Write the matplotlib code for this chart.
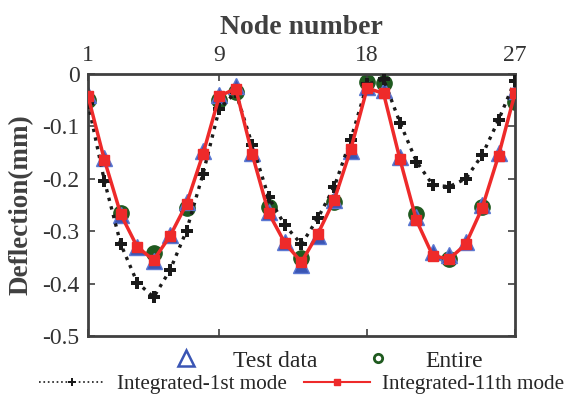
import numpy as np
import matplotlib.pyplot as plt
from matplotlib.lines import Line2D

plt.rcParams['font.family'] = ['Liberation Serif', 'DejaVu Serif']

nodes = np.arange(1, 28)

# test data (blue triangles)
test_data = [-0.040, -0.161, -0.269, -0.330, -0.357, -0.308, -0.244, -0.146, -0.040,
             -0.023, -0.151, -0.263, -0.321, -0.365, -0.310, -0.240, -0.147, -0.024,
             -0.031, -0.158, -0.272, -0.340, -0.345, -0.320, -0.250, -0.150, -0.032]

# entire model (green circles)
entire_nodes = [1, 3, 5, 7, 9, 10, 12, 14, 16, 18, 19, 21, 23, 25, 27]
entire = [-0.050, -0.265, -0.342, -0.256, -0.050, -0.034, -0.253, -0.352, -0.244,
          -0.016, -0.018, -0.267, -0.354, -0.253, -0.053]

# integrated - 1st mode
mode1 = [-0.055, -0.204, -0.325, -0.398, -0.426, -0.374, -0.299, -0.191, -0.066,
         -0.035, -0.135, -0.235, -0.289, -0.325, -0.275, -0.215, -0.125, -0.020,
         -0.010, -0.093, -0.167, -0.212, -0.215, -0.200, -0.155, -0.088, -0.013]

# integrated - 11th mode
mode11 = [-0.042, -0.164, -0.268, -0.330, -0.355, -0.309, -0.248, -0.153, -0.042,
          -0.028, -0.153, -0.265, -0.323, -0.359, -0.305, -0.240, -0.144, -0.027,
          -0.037, -0.163, -0.279, -0.347, -0.353, -0.325, -0.256, -0.156, -0.037]

xticks = [1, 9, 18, 27]
yticks = [0, -0.1, -0.2, -0.3, -0.4, -0.5]
ytick_labels = ['0', '-0.1', '-0.2', '-0.3', '-0.4', '-0.5']

axc = '#404040'
blue = '#3a55b4'
green = '#1f5a1f'
red = '#ee2a2a'

fig = plt.figure(figsize=(5.64, 4.0), dpi=100)
ax = fig.add_axes([0.156, 0.16, 0.757, 0.655])

ax.plot(nodes, test_data, linestyle='none', marker='^', ms=12,
        mfc=blue, mec='#5b78d2', mew=1, zorder=2)
ax.plot(entire_nodes, entire, linestyle='none', marker='o', ms=11,
        mfc=green, mec=green, zorder=1)
ax.plot(nodes, mode1, linestyle=':', color='#1a1a1a', lw=2.4,
        marker='P', ms=9, mfc='#1a1a1a', mec='#1a1a1a', mew=0, zorder=3)
ax.plot(nodes, mode11, linestyle='-', color=red, lw=2.5,
        marker='s', ms=6.5, mfc=red, mec=red, zorder=4)

ax.set_xlim(1, 27)
ax.set_ylim(-0.5, 0)
ax.set_xticks(xticks)
ax.set_yticks(yticks)
ax.set_yticklabels(ytick_labels)
ax.xaxis.set_ticks_position('both')
ax.yaxis.set_ticks_position('both')
ax.xaxis.set_label_position('top')
ax.tick_params(axis='x', labeltop=True, labelbottom=False)
ax.tick_params(direction='in', length=5, width=1.2, colors=axc,
               labelsize=17, labelcolor='#333333', pad=6)
for s in ax.spines.values():
    s.set_color(axc)
    s.set_linewidth(2)

ax.set_xlabel('Node number', fontsize=20, fontweight='bold', color='#404040', labelpad=8)
ax.set_ylabel('Deflection(mm)', fontsize=19.5, fontweight='bold', color='#404040', labelpad=6)

h1 = [Line2D([], [], linestyle='none', marker='^', ms=12, mfc='none', mec=blue, mew=1.8),
      Line2D([], [], linestyle='none', marker='o', ms=6, mfc='none', mec=green, mew=2)]
leg1 = fig.legend(h1, ['Test data', 'Entire'], ncol=2, loc='center',
                  bbox_to_anchor=(0.57, 0.098), frameon=False, fontsize=17,
                  handlelength=2.2, columnspacing=1.45, handletextpad=0.9,
                  labelcolor='#262626')

h2 = [Line2D([], [], linestyle=':', color='#1a1a1a', lw=1.2, marker='P', ms=6,
             mfc='#1a1a1a', mew=0),
      Line2D([], [], linestyle='-', color=red, lw=1.5, marker='s', ms=4.5,
             mfc=red, mec=red)]
leg2 = fig.legend(h2, ['Integrated-1st mode', 'Integrated-11th mode'], ncol=2,
                  loc='center', bbox_to_anchor=(0.535, 0.04), frameon=False,
                  fontsize=15.2, handlelength=3.1, columnspacing=0.8,
                  handletextpad=0.6, labelcolor='#262626')

fig.savefig('out.png', dpi=100)
